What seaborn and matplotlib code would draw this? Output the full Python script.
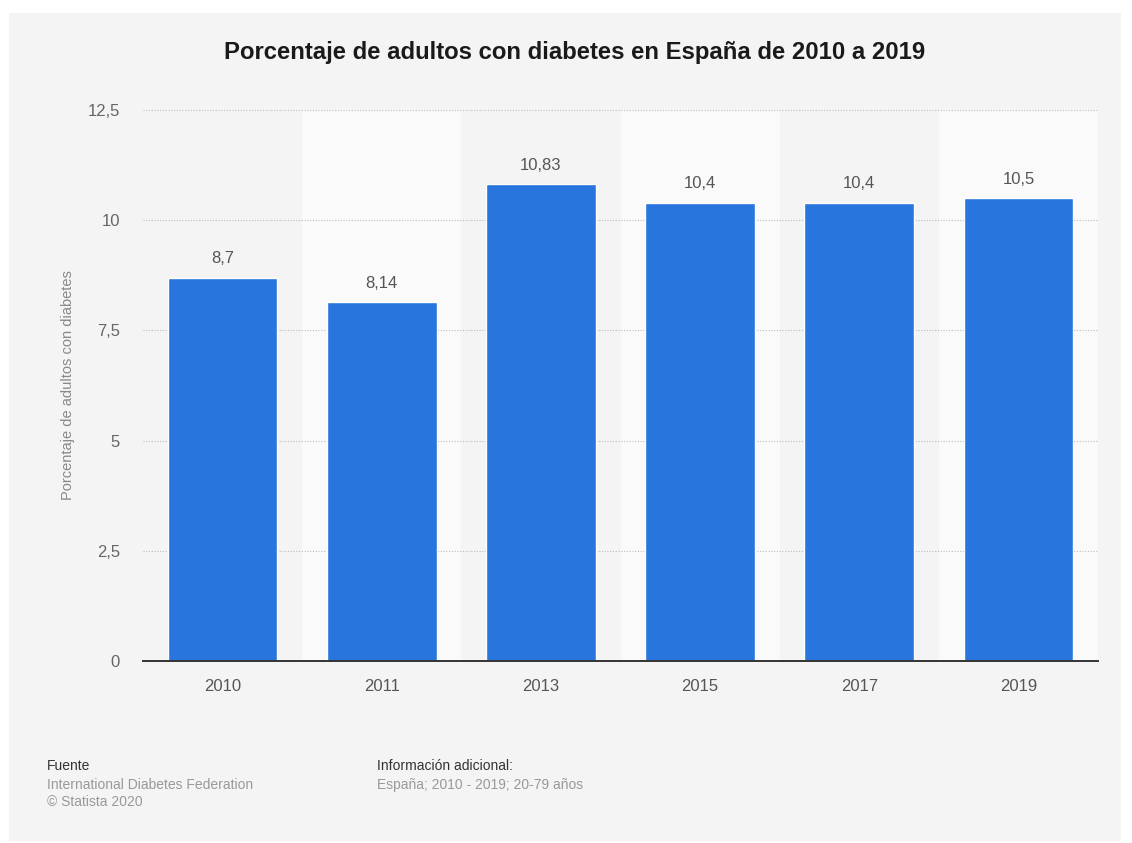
import matplotlib
matplotlib.use("Agg")
import matplotlib.pyplot as plt
import seaborn as sns
import pandas as pd
from matplotlib.patches import Rectangle

years = ["2010", "2011", "2013", "2015", "2017", "2019"]
values = [8.7, 8.14, 10.83, 10.4, 10.4, 10.5]
value_labels = ["8,7", "8,14", "10,83", "10,4", "10,4", "10,5"]
yticks = [0, 2.5, 5, 7.5, 10, 12.5]
ytick_labels = ["0", "2,5", "5", "7,5", "10", "12,5"]

sns.set_theme(style="white")
plt.rcParams['font.family'] = ['Liberation Sans', 'DejaVu Sans']

fig = plt.figure(figsize=(11.32, 8.43), dpi=100)
fig.patch.set_facecolor("white")
fig.add_artist(Rectangle((9/1132, 1 - 841/843), (1121-9)/1132, (841-13)/843,
                         transform=fig.transFigure, facecolor="#f4f4f4",
                         edgecolor="none", zorder=-10))

ax = fig.add_axes([143/1132, 1 - 661/843, 955/1132, 551/843])
ax.set_zorder(1)
ax.set_facecolor("#f4f4f4")

df = pd.DataFrame({"year": years, "value": values})
for i in range(len(years)):
    if i % 2 == 1:
        ax.axvspan(i - 0.5, i + 0.5, color="#fafafa", zorder=0, lw=0)

sns.barplot(data=df, x="year", y="value", color="#2876dd", width=0.69,
            saturation=1, ax=ax, zorder=3)

ax.bar_label(ax.containers[0], labels=value_labels, padding=8,
             fontsize=12, color="#555555")

ax.set_xlim(-0.5, len(years) - 0.5)
ax.set_ylim(0, 12.5)
ax.set_yticks(yticks)
ax.set_yticklabels(ytick_labels)
ax.yaxis.grid(True, linestyle=(0, (1, 1.5)), color="#bbbbbb", linewidth=0.8, zorder=1)
ax.set_axisbelow(True)
ax.tick_params(axis="y", length=0, pad=16.5, labelsize=12, labelcolor="#666666")
ax.tick_params(axis="x", length=0, pad=13, labelsize=12, labelcolor="#555555")

for s in ["top", "right", "left"]:
    ax.spines[s].set_visible(False)
ax.spines["bottom"].set_color("#333333")
ax.spines["bottom"].set_linewidth(1.4)
ax.spines["bottom"].set_zorder(5)

ax.set_xlabel("")
ax.set_ylabel("Porcentaje de adultos con diabetes", fontsize=10.5, color="#888888")
ax.yaxis.set_label_coords(-0.0712, 0.5)

fig.text(575/1132, 1 - 52/843, "Porcentaje de adultos con diabetes en España de 2010 a 2019",
         ha="center", va="center", fontsize=17.2, fontweight="bold", color="#1a1a1a")

fig.text(47/1132, 1 - 766/843, "Fuente", ha="left", va="center", fontsize=10, color="#333333")
fig.text(47/1132, 1 - 785/843, "International Diabetes Federation", ha="left", va="center",
         fontsize=10, color="#999999")
fig.text(47/1132, 1 - 802/843, "© Statista 2020", ha="left", va="center",
         fontsize=10, color="#999999")
fig.text(377/1132, 1 - 766/843, "Información adicional:", ha="left", va="center",
         fontsize=10, color="#333333")
fig.text(377/1132, 1 - 785/843, "España; 2010 - 2019; 20-79 años", ha="left", va="center",
         fontsize=10, color="#999999")

fig.savefig("out.png", dpi=100, facecolor="white")
